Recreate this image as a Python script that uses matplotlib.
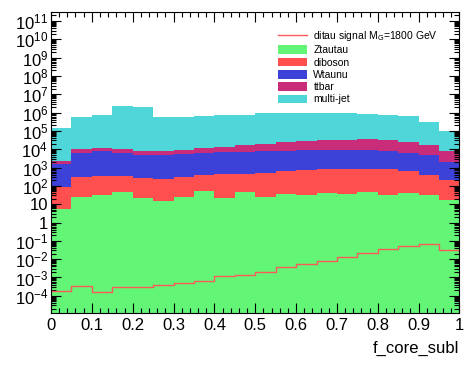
import numpy as np
import matplotlib
matplotlib.use("Agg")
import matplotlib.pyplot as plt
from matplotlib.ticker import FixedLocator, MultipleLocator, LogLocator, NullFormatter

plt.rcParams['font.family'] = ['Liberation Sans', 'DejaVu Sans']
plt.rcParams['mathtext.fontset'] = 'custom'
plt.rcParams['mathtext.rm'] = 'Liberation Sans'
plt.rcParams['mathtext.it'] = 'Liberation Sans:italic'

# bin edges of f_core_subl (20 bins, 0..1)
edges = np.linspace(0, 1, 21)

# per-process bin contents (stacked in this order)
ztautau = [5.4, 26, 33, 44, 21, 15.5, 24.5, 54, 21, 48,
           25, 37, 33, 40, 37, 48, 33, 42, 30, 17]
diboson = [81, 274, 322, 281, 249, 230, 276, 316, 419, 392,
           475, 573, 667, 750, 823, 812, 757, 598, 360, 198]
wtaunu = [1510, 5900, 7250, 5880, 4730, 4760, 5100, 5830, 6560, 6260,
          7100, 7690, 8700, 8610, 8540, 7740, 7510, 5560, 4210, 1690]
ttbar = [800, 3800, 4400, 3800, 3300, 3300, 4000, 4800, 7000, 10300,
         12400, 15700, 17600, 20600, 23600, 28400, 24700, 17800, 11400, 6400]
multijet = [137600, 590000, 758000, 2390000, 2090000, 561700, 560600, 669000, 756000, 723000,
            930000, 926000, 973000, 970000, 967000, 833000, 737000, 596000, 274000, 89700]

# signal (not stacked)
signal = [1.9e-4, 3.6e-4, 1.6e-4, 2.9e-4, 2.9e-4, 4.0e-4, 4.9e-4, 6.5e-4, 1.15e-3, 1.3e-3,
          1.9e-3, 3.6e-3, 5.4e-3, 8.4e-3, 0.013, 0.021, 0.035, 0.053, 0.069, 0.032]

procs = [
    ("Ztautau", ztautau, "#62f576"),
    ("diboson", diboson, "#ff4f4f"),
    ("Wtaunu", wtaunu, "#3c42d8"),
    ("ttbar", ttbar, "#c92d7a"),
    ("multi-jet", multijet, "#4fd6d8"),
]

fig = plt.figure(figsize=(4.72, 3.67), dpi=100)
ax = fig.add_axes([0.108, 0.148, 0.8655, 0.818])
ax.set_yscale('log')

bottom = np.full(len(edges) - 1, 1e-8)
handles = []
for name, vals, col in procs:
    top = bottom + np.array(vals)
    h = ax.stairs(top, edges, baseline=bottom, fill=True, color=col, lw=0, label=name)
    handles.append(h)
    bottom = top

sig, = ax.step(edges, list(signal) + [signal[-1]], where='post', color='#ff5a5a', lw=1.0,
               label=r"ditau signal M$_{\mathrm{G}}$=1800 GeV")

ax.set_xlim(0, 1)
ax.set_ylim(1.2e-5, 2.9e11)

# ROOT style ticks
ax.xaxis.set_major_locator(MultipleLocator(0.1))
ax.xaxis.set_minor_locator(MultipleLocator(0.02))
ax.set_xticks([0, 0.1, 0.2, 0.3, 0.4, 0.5, 0.6, 0.7, 0.8, 0.9, 1.0])
ax.set_xticklabels(["0", "0.1", "0.2", "0.3", "0.4", "0.5", "0.6", "0.7", "0.8", "0.9", "1"])

exps = list(range(-4, 12))
ylabels = []
for e in exps:
    if e == 0:
        ylabels.append("1")
    elif e == 1:
        ylabels.append("10")
    else:
        ylabels.append(r"$10^{%d}$" % e)
ax.yaxis.set_major_locator(FixedLocator([10.0 ** e for e in exps]))
ax.set_yticklabels(ylabels)
ax.yaxis.set_minor_locator(LogLocator(base=10, subs=np.arange(2, 10), numticks=40))
ax.yaxis.set_minor_formatter(NullFormatter())

ax.tick_params(which='both', direction='in', top=True, right=True, width=0.8)
ax.tick_params(which='major', length=7)
ax.tick_params(which='minor', length=3.5)
ax.tick_params(axis='x', which='major', labelsize=12, pad=4)
ax.tick_params(axis='y', which='major', labelsize=12, pad=2)
for s in ax.spines.values():
    s.set_linewidth(0.8)

fig.text(0.973, 0.03, "f_core_subl", ha='right', va='bottom', fontsize=12)

ax.legend([sig] + handles, [sig.get_label()] + [p[0] for p in procs],
          loc='upper left', bbox_to_anchor=(278 / 472, 1 - 29 / 367),
          bbox_transform=fig.transFigure, frameon=False, fontsize=7.5,
          handlelength=2.8, handleheight=0.9, labelspacing=0.22,
          handletextpad=0.6, borderpad=0, borderaxespad=0)

fig.savefig("out.png", dpi=100)
